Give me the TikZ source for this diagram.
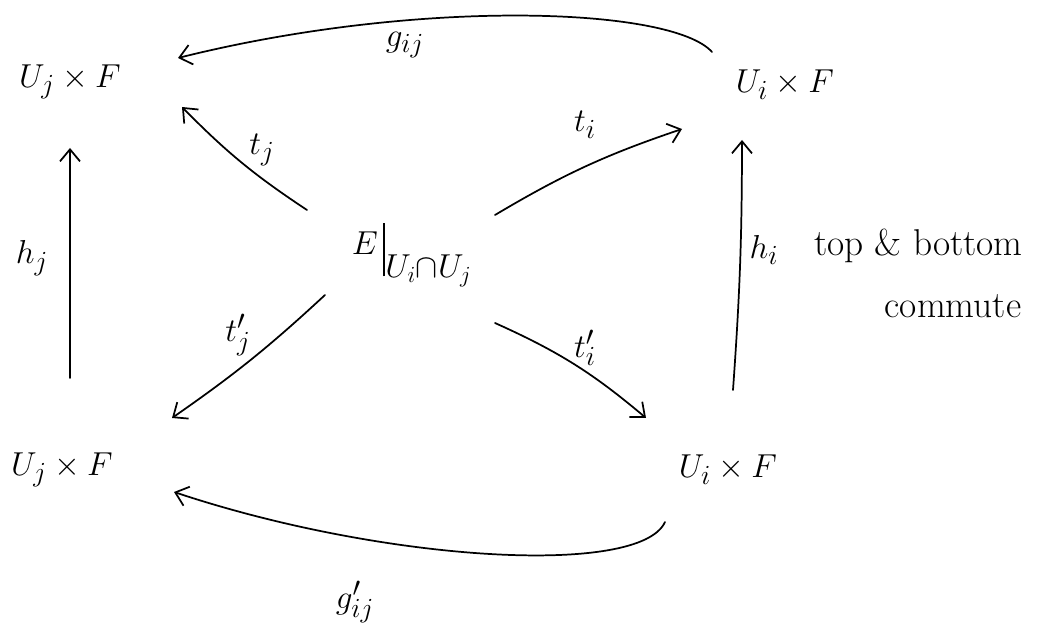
\documentclass[tikz,border=0pt]{standalone}
\usetikzlibrary{arrows.meta,calc}
\begin{document}
\begin{tikzpicture}[x=0.75pt,y=-0.75pt,
  obj/.style={font=\fontsize{30}{34}\selectfont, inner sep=0pt},
  lbl/.style={font=\fontsize{28}{32}\selectfont, inner sep=0pt},
  note/.style={font=\fontsize{28}{32}\selectfont, inner sep=0pt},
  arr/.style={-{Straight Barb[length=9pt,width=15pt,line width=1.3pt]}, line width=1.3pt, line cap=round}]
\path[use as bounding box, fill=white] (0,0) rectangle (1061,634);
% objects
\node[obj] (UjT) at (70,82) {$U_j\times F$};
\node[obj] (UiT) at (785,85) {$U_i\times F$};
\node[obj] (UjB) at (62,470) {$U_j\times F$};
\node[obj] (UiB) at (728,470) {$U_i\times F$};
\node[obj, font=\fontsize{33}{38}\selectfont] (E) at (412,255) {$E\,{\vrule height 0.72em depth 0.5em width 0.045em}_{U_i\cap U_j}$};
% curved arrows
\draw[arr] ($(UiT)+(-73,-33)$) .. controls +(-40,-45) and +(240,-60) .. ($(UjT)+(108,-24)$);
\node[lbl] (gij) at (405,45) {$g_{ij}$};
\draw[arr] ($(UiB)+(-63,52)$) .. controls +(-25,55) and +(210,70) .. ($(UjB)+(112,22)$);
\node[lbl] (gpij) at (355,602) {$g'_{ij}$};
% diagonal arrows
\draw[arr] ($(E)+(-105,-45)$) to[bend left=6] ($(UjT)+(112,25)$);
\node[lbl] (tj) at (262,150) {$t_j$};
\draw[arr] ($(E)+(83,-40)$) to[bend left=6] ($(UiT)+(-103,44)$);
\node[lbl] (ti) at (585,125) {$t_i$};
\draw[arr] ($(E)+(-87,40)$) to[bend left=4] ($(UjB)+(110,-52)$);
\node[lbl] (tpj) at (238,335) {$t'_j$};
\draw[arr] ($(E)+(83,68)$) to[bend left=8] ($(UiB)+(-82,-52)$);
\node[lbl] (tpi) at (585,348) {$t'_i$};
% vertical arrows
\draw[arr] ($(UjB)+(8,-92)$) -- ($(UjT)+(0,66)$);
\node[lbl] (hj) at (32,258) {$h_j$};
\draw[arr] ($(UiB)+(5,-80)$) to[bend right=2] ($(UiT)+(-43,55)$);
\node[lbl] (hi) at (764,250) {$h_i$};
% note
\node[note, anchor=west] (n1) at (814,246) {top \& bottom};
\node[note] (n2) at (953,306) {commute};
\end{tikzpicture}
\end{document}
